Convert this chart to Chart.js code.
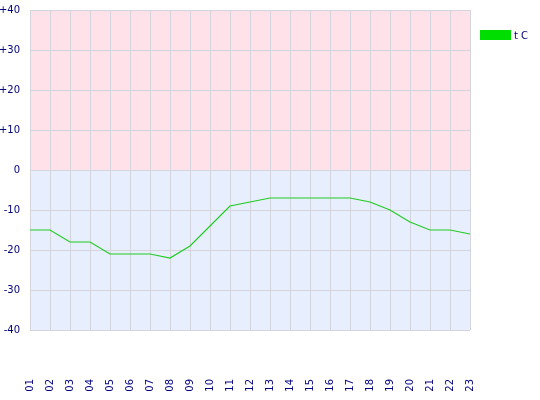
<!DOCTYPE html>
<html>
<head>
<meta charset="utf-8">
<script src="https://cdn.jsdelivr.net/npm/chart.js@4"></script>
<style>
html,body{margin:0;padding:0;background:#fff;}
#wrap{width:540px;height:400px;position:relative;}
</style>
</head>
<body>
<div id="wrap"><canvas id="c" width="540" height="400"></canvas></div>
<script>
const hours = ['01','02','03','04','05','06','07','08','09','10','11','12','13','14','15','16','17','18','19','20','21','22','23'];
const tempC = [-15,-15,-18,-18,-21,-21,-21,-22,-19,-14,-9,-8,-7,-7,-7,-7,-7,-8,-10,-13,-15,-15,-16];
const seriesLabel = 't C';
const yMin = -40, yMax = 40, yStep = 10;

const textColor = '#000080';
const fontFamily = '"DejaVu Sans", Verdana, sans-serif';

const bgPlugin = {
  id: 'bgZones',
  beforeDraw(chart) {
    const {ctx, chartArea: a, scales: {y}} = chart;
    const zeroY = y.getPixelForValue(0);
    ctx.save();
    ctx.fillStyle = '#ffe1ea';
    ctx.fillRect(a.left, a.top, a.right - a.left, zeroY - a.top);
    ctx.fillStyle = '#e7eefd';
    ctx.fillRect(a.left, zeroY, a.right - a.left, a.bottom - zeroY);
    ctx.restore();
  }
};

const legendPlugin = {
  id: 'customLegend',
  afterDraw(chart) {
    const {ctx, chartArea: a} = chart;
    const ds = chart.data.datasets[0];
    ctx.save();
    ctx.fillStyle = '#00dd00';
    ctx.fillRect(a.right + 10, 30, 31, 10);
    ctx.fillStyle = textColor;
    ctx.font = '10px ' + fontFamily;
    ctx.textBaseline = 'middle';
    ctx.textAlign = 'left';
    ctx.fillText(ds.label, a.right + 44, 36);
    ctx.restore();
  }
};

new Chart(document.getElementById('c'), {
  type: 'line',
  data: {
    labels: hours,
    datasets: [{
      label: seriesLabel,
      data: tempC,
      borderColor: '#22cc22',
      borderWidth: 1.2,
      pointRadius: 0,
      tension: 0,
      fill: false
    }]
  },
  options: {
    responsive: false,
    animation: false,
    layout: { padding: { top: 10, right: 70, left: 0, bottom: 0 } },
    plugins: { legend: { display: false }, tooltip: { enabled: false } },
    scales: {
      x: {
        offset: false,
        grid: { color: '#d4d4dc', drawTicks: false },
        border: { display: false },
        ticks: {
          color: textColor,
          font: { family: fontFamily, size: 10 },
          minRotation: 90, maxRotation: 90,
          autoSkip: false,
          padding: 49
        },
        afterFit(s) { s.height = 70; s.paddingLeft = 0; s.paddingRight = 0; }
      },
      y: {
        min: yMin, max: yMax,
        grid: { color: '#d4d4dc', drawTicks: false },
        border: { display: false },
        ticks: {
          stepSize: yStep,
          color: textColor,
          font: { family: fontFamily, size: 10 },
          padding: 10,
          callback: v => v > 0 ? '+' + v : String(v)
        },
        afterFit(s) { s.width = 30; s.paddingTop = 0; s.paddingBottom = 0; }
      }
    }
  },
  plugins: [bgPlugin, legendPlugin]
});
</script>
</body>
</html>
